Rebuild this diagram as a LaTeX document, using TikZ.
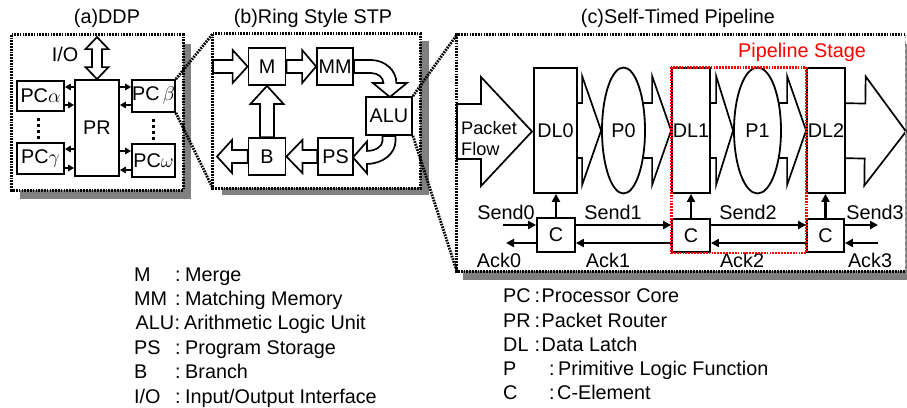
\documentclass[tikz,border=0pt]{standalone}
\usepackage{fix-cm}
\usepackage{fontspec}
\setmainfont{Liberation Sans}
\usetikzlibrary{calc,shapes.geometric,arrows.meta}
\pgfdeclarelayer{shadowlayer}
\pgfdeclarelayer{framelayer}
\pgfdeclarelayer{arrowlayer}
\pgfsetlayers{shadowlayer,framelayer,arrowlayer,main}

% straight block arrow: [opts]{from}{tip}{head length}{shaft half width}{head half width}
\newcommand\blockarrow[6][]{%
  \path ($(#3)!#4!(#2)$) coordinate (bh);
  \draw[blk,#1] ($(#2)!#5!90:(#3)$) -- ($(bh)!#5!90:(#3)$) -- ($(bh)!#6!90:(#3)$)
    -- (#3) -- ($(bh)!#6!-90:(#3)$) -- ($(bh)!#5!-90:(#3)$) -- ($(#2)!#5!-90:(#3)$) -- cycle;
}
% one legend line: name, x of abbreviation, x of colon, x of text, baseline, abbreviation, text
\newcommand\legrow[7]{%
  \node[leg] (#1a) at (#2,#5) {#6};
  \node[leg] (#1c) at (#3,#5) {:};
  \node[leg] (#1d) at (#4,#5) {#7};
}

\begin{document}
\begin{tikzpicture}[x=1pt,y=-1pt,
  every node/.style={font=\fontsize{19.8}{23}\selectfont, inner sep=0pt},
  box/.style={draw, line width=1.8pt, fill=white, rectangle},
  oval/.style={draw, line width=1.8pt, fill=white, ellipse},
  blk/.style={draw, line width=1.7pt, fill=white, line join=miter},
  sarrow/.style={line width=2.4pt, -{Triangle[length=8pt,width=8pt]}},
  tarrow/.style={line width=2pt, -{Triangle[length=6pt,width=6.5pt]}},
  framedot/.style={line width=2.8pt, dash pattern=on 1.7pt off 1.1pt},
  reddot/.style={red, line width=2.8pt, dash pattern=on 1.8pt off 1.1pt},
  vdots/.style={line width=3pt, dash pattern=on 3.5pt off 2.5pt},
  shade/.style={fill=black!50},
  leg/.style={anchor=base west},
]
\useasboundingbox (0,0) rectangle (907,407);

% panel frames
\node (fa) at (97.5,112.5) [minimum width=171, minimum height=155] {};
\node (fb) at (316.5,111) [minimum width=207, minimum height=154] {};
\node (fc) at (681,153) [minimum width=448, minimum height=236] {};

% titles
\node (ta) at (107,18) {(a)DDP};
\node (tb) at (313,18) {(b)Ring Style STP};
\node (tc) at (678,18) {(c)Self-Timed Pipeline};

% (a) DDP
\node[box, minimum width=44, minimum height=96] (PR) at (97,128) {PR};
\node[box, minimum width=47, minimum height=30] (PCa) at (40.5,96) {PC$\alpha$};
\node[box, minimum width=47, minimum height=31] (PCg) at (40.5,158.5) {PC$\gamma$};
\node[box, minimum width=43, minimum height=32] (PCb) at (153.5,96) {PC\,$\beta$};
\node[box, minimum width=43, minimum height=33] (PCw) at (153.5,160.5) {PC$\omega$};
\node (iol) at (65,54.5) {I/O};

\begin{scope}[shift={(PR.north)}]
  \draw[blk] (0,-42) -- (11.5,-30) -- (5,-30) -- (5,-12) -- (11.5,-12) -- (0,0)
    -- (-11.5,-12) -- (-5,-12) -- (-5,-30) -- (-11.5,-30) -- cycle;
\end{scope}

\draw[tarrow] ($(PR.west|-PCa.east)+(0,-9)$) -- ($(PCa.east)+(0,-9)$);
\draw[tarrow] ($(PCa.east)+(0,9)$) -- ($(PR.west|-PCa.east)+(0,9)$);
\draw[tarrow] ($(PR.west|-PCg.east)+(0,-9.5)$) -- ($(PCg.east)+(0,-9.5)$);
\draw[tarrow] ($(PCg.east)+(0,9.5)$) -- ($(PR.west|-PCg.east)+(0,9.5)$);
\draw[tarrow] ($(PR.east|-PCb.west)+(0,-9)$) -- ($(PCb.west)+(0,-9)$);
\draw[tarrow] ($(PCb.west)+(0,9)$) -- ($(PR.east|-PCb.west)+(0,9)$);
\draw[tarrow] ($(PR.east|-PCw.west)+(0,-9.5)$) -- ($(PCw.west)+(0,-9.5)$);
\draw[tarrow] ($(PCw.west)+(0,9.5)$) -- ($(PR.east|-PCw.west)+(0,9.5)$);

\draw[vdots] ($(PCa.south)!0.19!(PCg.north)+(-2,0)$) -- ($(PCa.south)!0.9!(PCg.north)+(-2,0)$);
\draw[vdots] ($(PCb.south)!0.19!(PCw.north)$) -- ($(PCb.south)!0.9!(PCw.north)$);

% (b) ring style STP
\node[box, minimum width=37, minimum height=37] (M) at (267,66.5) {M};
\node[box, minimum width=36, minimum height=37] (MM) at (335,66.5) {MM};
\node[box, minimum width=46, minimum height=38] (ALU) at (389,116) {ALU};
\node[box, minimum width=37, minimum height=37] (B) at (267,156.5) {B};
\node[box, minimum width=35, minimum height=37] (PS) at (335.5,156.5) {PS};
\coordinate (bin) at (213,66.5);
\coordinate (bout) at (217,156.5);

% (c) self-timed pipeline
\node[box, minimum width=43, minimum height=125] (DL0) at (555.5,130.5) {DL0};
\node[box, minimum width=38, minimum height=125] (DL1) at (691,130.5) {DL1};
\node[box, minimum width=38, minimum height=125] (DL2) at (826,130.5) {DL2};
\node[oval, minimum width=43, minimum height=126] (P0) at (623.5,130.5) {P0};
\node[oval, minimum width=47, minimum height=126] (P1) at (757.5,130.5) {P1};
\node[box, minimum width=38, minimum height=34] (C0) at (556,235) {C};
\node[box, minimum width=38, minimum height=33] (C1) at (691,235.5) {C};
\node[box, minimum width=37, minimum height=33] (C2) at (825.5,235.5) {C};
\coordinate (pin) at (457,131.5);
\coordinate (ptip) at (532,131.5);
\coordinate (pout) at (906,131.5);
\coordinate (s0) at (503,225);
\coordinate (s3) at (878,225);
\coordinate (a0) at (506,243);
\coordinate (a3) at (878,243);

\node[anchor=base west, font=\fontsize{18.2}{21}\selectfont] (pf1) at (461,134.5) {Packet};
\node[anchor=base west, font=\fontsize{18.2}{21}\selectfont] (pf2) at (461,155.5) {Flow};

\draw[sarrow] (s0) -- (s0 -| C0.west);
\draw[sarrow] (C0.east |- s0) -- (C1.west |- s0);
\draw[sarrow] (C1.east |- s0) -- (C2.west |- s0);
\draw[sarrow] (C2.east |- s0) -- (s3);
\draw[sarrow] (C0.west |- a0) -- (a0);
\draw[sarrow] (C1.west |- a0) -- (C0.east |- a0);
\draw[sarrow] (C2.west |- a0) -- (C1.east |- a0);
\draw[sarrow] (a3) -- (C2.east |- a0);
\draw[sarrow] (C0.north) -- (C0.north |- DL0.south);
\draw[sarrow] (C1.north) -- (C1.north |- DL1.south);
\draw[sarrow] (C2.north) -- (C2.north |- DL2.south);

\node (ls0) at (506,212) {Send0};
\node (ls1) at (613,212) {Send1};
\node (ls2) at (748,212) {Send2};
\node (ls3) at (875,212) {Send3};
\node (la0) at (499,260) {Ack0};
\node (la1) at (608,260) {Ack1};
\node (la2) at (742,260) {Ack2};
\node (la3) at (870,260) {Ack3};

\draw[reddot] (DL1.north west) rectangle (DL2.west |- C1.south);
\node[text=red] (pstage) at (802,52) {Pipeline Stage};

% block arrows, under the boxes
\begin{pgfonlayer}{arrowlayer}
  \blockarrow{bin}{M.west}{15pt}{6.5pt}{16.5pt}
  \blockarrow{M.east}{MM.west}{14pt}{6.5pt}{16.5pt}
  \blockarrow{PS.west}{B.east}{16pt}{6.5pt}{16.5pt}
  \blockarrow{B.west}{bout}{15pt}{6.5pt}{16.5pt}
  \blockarrow{B.north}{M.south}{18pt}{7pt}{16.5pt}
  \begin{scope}[shift={(MM.east)}]
    \draw[blk] (0,-6.5) -- (17,-6.5) .. controls (31,-6.5) and (42.5,3.8) .. (42.5,16.5)
      -- (53,16.5) -- (36,30.5) -- (19,16.5) -- (29.5,16.5)
      .. controls (29.5,11) and (24,6.5) .. (17,6.5) -- (0,6.5) -- cycle;
  \end{scope}
  \begin{scope}[shift={(ALU.south)}]
    \draw[blk] (6.5,0) -- (6.5,5) .. controls (6.5,17.7) and (-6.3,28) .. (-22,28)
      -- (-22,37.5) -- (-36,21.5) -- (-22,5.5) -- (-22,15)
      .. controls (-13.4,15) and (-6.5,10.5) .. (-6.5,5) -- (-6.5,0) -- cycle;
  \end{scope}
  \blockarrow{pin}{ptip}{51pt}{27.5pt}{54.5pt}
  \blockarrow{DL0.center}{P0.west}{19pt}{27.5pt}{54.5pt}
  \blockarrow{P0.center}{DL1.west}{19pt}{27.5pt}{54.5pt}
  \blockarrow{DL1.center}{P1.west}{17pt}{27.5pt}{54.5pt}
  \blockarrow{P1.center}{DL2.west}{19pt}{27.5pt}{54.5pt}
  \blockarrow{DL2.center}{pout}{41pt}{27.5pt}{54.5pt}
\end{pgfonlayer}

% frame fills and drop shadows
\begin{pgfonlayer}{framelayer}
  \fill[white] (fa.north west) rectangle (fa.south east);
  \fill[white] (fb.north west) rectangle (fb.south east);
  \fill[white] (fc.north west) rectangle (fc.south east);
\end{pgfonlayer}
\begin{pgfonlayer}{shadowlayer}
  \fill[white] (0,0) rectangle (907,407);
  \fill[shade] ($(fa.north west)+(8,9)$) rectangle ($(fa.south east)+(8,9)$);
  \fill[shade] ($(fb.north west)+(9,7)$) rectangle ($(fb.south east)+(9,7)$);
  \fill[shade] ($(fc.north west)+(6,9)$) rectangle ($(fc.south east)+(6,9)$);
\end{pgfonlayer}

% frame borders and zoom lines
\draw[framedot] (fa.north west) rectangle (fa.south east);
\draw[framedot] (fb.north west) rectangle (fb.south east);
\draw[framedot] (fc.north east) -- (fc.north west) -- (fc.south west) -- (fc.south east);
\draw[gray!60, line width=0.6pt, dashed] (fc.north east) -- (fc.south east);
\draw[framedot] (PCb.north east) -- (fb.north west);
\draw[framedot] (PCb.south east) -- (fb.south west);
\draw[framedot] (ALU.north east) -- (fc.north west);
\draw[framedot] (ALU.south east) -- (fc.south west);

% legend
\legrow{lm}{134}{175}{185}{281}{M}{Merge}
\legrow{lmm}{134}{175}{185}{305}{MM}{Matching Memory}
\legrow{lalu}{135.5}{174.5}{184}{329}{ALU}{Arithmetic Logic Unit}
\legrow{lps}{134}{175}{185}{354}{PS}{Program Storage}
\legrow{lb}{134}{175}{185}{378}{B}{Branch}
\legrow{lio}{134}{175}{185}{403}{I/O}{Input/Output Interface}
\legrow{lpc}{503}{534.5}{541.5}{302}{PC}{Processor Core}
\legrow{lpr}{503}{534.5}{541.5}{327}{PR}{Packet Router}
\legrow{ldl}{503}{534.5}{541.5}{351}{DL}{Data Latch}
\legrow{lp}{503}{549}{558}{375}{P}{Primitive Logic Function}
\legrow{lc}{503}{549}{557}{399}{C}{C-Element}
\end{tikzpicture}
\end{document}
